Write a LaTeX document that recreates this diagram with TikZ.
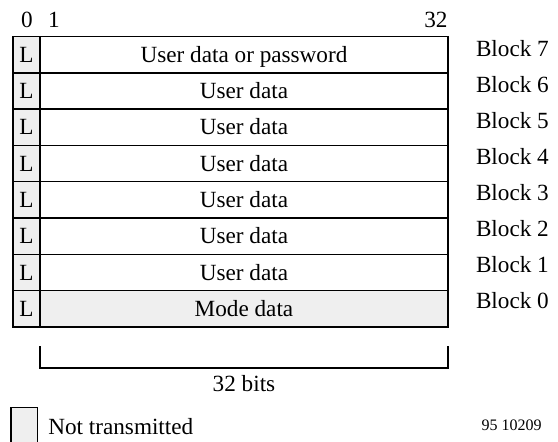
\documentclass[tikz,border=0pt]{standalone}
\usepackage{fontspec}
\setmainfont{Liberation Serif}
\definecolor{ntgray}{HTML}{EFEFEF}
\begin{document}
\begin{tikzpicture}[x=0.5pt,y=-0.5pt,
  every node/.style={font=\fontsize{11.6}{13}\selectfont, inner sep=0pt, outer sep=0pt},
  cell/.style={draw, line width=0.7pt, text height=7.7pt, text depth=0pt, minimum height=18.15pt},
  lcell/.style={cell, fill=ntgray, minimum width=13.5pt},
  dcell/.style={cell, minimum width=204pt},
  blk/.style={anchor=base west},
  hdr/.style={anchor=base},
  thin/.style={line width=0.65pt}
]
\useasboundingbox (0,0) rectangle (558,441);
% header
\node[hdr] (h0) at (27,27.3) {0};
\node[hdr] (h1) at (54,27.3) {1};
\node[anchor=base east] (h32) at (447.5,27.3) {32};
% rows
\foreach \i/\t in {7/User data or password,6/User data,5/User data,4/User data,3/User data,2/User data,1/User data}{
  \pgfmathsetmacro\yy{54.65+36.3*(7-\i)}
  \pgfmathsetmacro\yb{56+36*(7-\i)}
  \node[dcell] (d\i) at (244,\yy) {\t};
  \node[lcell] (l\i) at (26.5,\yy) {L};
  \node[blk] (b\i) at (476,\yb) {Block \i};
}
\node[dcell, fill=ntgray] (d0) at (244,308.75) {Mode data};
\node[lcell] (l0) at (26.5,308.75) {L};
\node[blk] (b0) at (476,308) {Block 0};
% bracket
\coordinate (brl) at (40,346);
\coordinate (brr) at (448,346);
\draw[thin] (brl) |- (448,368) -- (brr);
\node[hdr] (bits) at (244,391.7) {32 bits};
% legend
\draw[thin, fill=ntgray] (11,407.3) rectangle (37.7,445);
\node[blk] (leg) at (48.3,434.3) {Not transmitted};
\node[anchor=base west, font=\fontsize{8}{9}\selectfont] (num) at (481.7,430) {95 10209};
\end{tikzpicture}
\end{document}
